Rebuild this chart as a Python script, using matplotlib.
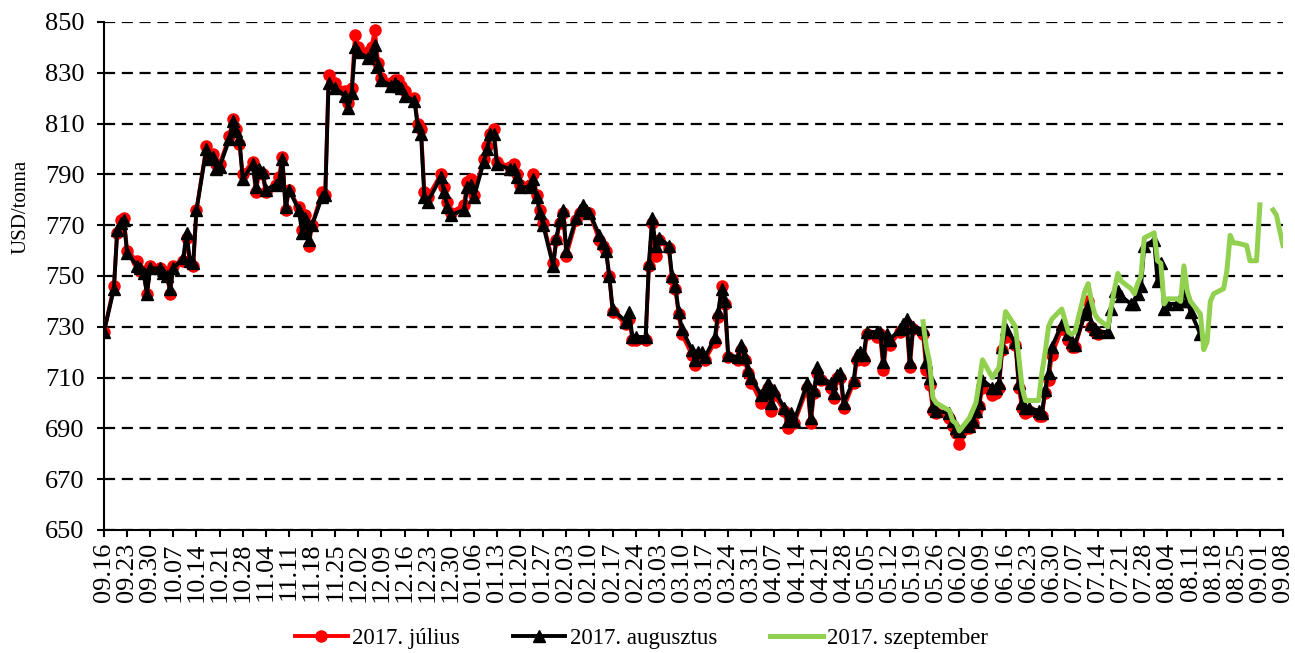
import numpy as np
import pandas as pd
import matplotlib
matplotlib.use("Agg")
import matplotlib.pyplot as plt
import matplotlib.dates as mdates

plt.rcParams["font.family"] = ["Liberation Serif", "DejaVu Serif"]

# US market holidays in the window (no quote that day)
holidays = ["2016-11-24", "2016-12-26", "2017-01-02", "2017-01-16", "2017-02-20",
            "2017-04-14", "2017-05-29", "2017-07-04", "2017-09-04"]

# 2017. augusztus contract, 2016.09.16 - 2017.08.14, one value per trading day (month per line)
augusztus = [
    728, 745, 768, 771, 772, 759, 754, 753, 751, 743, 753,
    753, 751, 750, 745, 753, 757, 767, 756, 755, 776, 800, 796, 797, 792, 793, 804, 811, 807, 804, 788, 794,
    785, 792, 791, 784, 786, 787, 796, 777, 784, 776, 767, 773, 764, 770, 781, 782, 826, 824, 821, 816, 822,
    840, 838, 836, 837, 841, 833, 827, 825, 826, 825, 824, 821, 819, 809, 806, 781, 779, 789, 783, 777, 774,
    776, 785, 786, 781, 795, 800, 806, 806, 794, 792, 792, 789, 785, 785, 788, 781, 775, 770, 754, 765,
    772, 776, 760, 773, 776, 778, 776, 775, 766, 763, 760, 750, 737, 732, 736, 726, 726, 726, 755,
    773, 762, 765, 762, 750, 746, 736, 729, 721, 717, 720, 720, 718, 726, 736, 745, 740, 719, 718, 723, 718, 713, 710,
    703, 704, 708, 700, 705, 698, 693, 696, 693, 708, 694, 705, 714, 710, 708, 704, 711, 712, 700,
    709, 719, 720, 719, 728, 728, 728, 716, 727, 725, 729, 731, 733, 716, 730, 729, 716, 710, 699, 697, 696, 693,
    690, 689, 691, 693, 697, 700, 709, 706, 706, 708, 722, 729, 724, 708, 700, 698, 698, 697, 696, 705, 712, 722,
    731, 727, 724, 723, 735, 738, 731, 729, 728, 728, 737, 744, 744, 742, 739, 739, 743, 746, 762, 764,
    748, 755, 737, 739, 739, 740, 744, 740, 736, 727,
]

# 2017. július contract, 2016.09.16 - 2017.07.14
julius = [
    728, 746, 767, 772, 773, 760, 756, 752, 752, 743, 754,
    753, 752, 751, 743, 754, 756, 765, 755, 754, 776, 801, 797, 798, 794, 794, 805, 812, 808, 802, 790, 795,
    783, 791, 790, 783, 786, 789, 797, 776, 784, 777, 768, 774, 762, 770, 783, 782, 829, 826, 823, 818, 824,
    845, 840, 838, 840, 847, 834, 828, 826, 827, 827, 825, 823, 820, 810, 808, 783, 781, 790, 785, 779, 775,
    778, 787, 788, 782, 796, 801, 806, 808, 795, 793, 794, 790, 786, 786, 790, 782, 776, 771, 755, 764,
    771, 775, 758, 772, 775, 776, 775, 775, 764, 762, 760, 750, 736, 731, 733, 725, 725, 725, 754,
    771, 758, 764, 761, 749, 745, 735, 727, 719, 715, 719, 718, 717, 724, 734, 746, 739, 718, 717, 721, 717, 712, 708,
    700, 702, 706, 697, 703, 697, 690, 694, 692, 706, 692, 704, 712, 709, 706, 702, 710, 710, 698,
    708, 717, 719, 717, 727, 726, 727, 713, 725, 723, 728, 729, 731, 714, 729, 727, 713, 707, 697, 696, 694, 691,
    688, 684, 690, 692, 696, 699, 706, 703, 704, 706, 721, 726, 723, 706, 698, 696, 697, 695, 695, 704, 709, 719,
    729, 725, 722, 722, 735, 740, 730, 728, 727,
]

# 2017. szeptember contract, 2017.05.22 - 2017.09.08 (09.04 empty)
szeptember = [
    732, 722, 716, 702, 700, 697, 693,
    692, 689, 694, 697, 700, 708, 717, 710, 712, 714, 725, 736, 730, 718, 706, 701, 701, 701, 712, 720, 730, 733,
    737, 728, 727, 728, 744, 747, 740, 735, 733, 730, 738, 745, 751, 748, 745, 743, 747, 750, 765, 767,
    756, 755, 739, 741, 741, 740, 754, 744, 740, 735, 721, 724, 740, 743, 745, 752, 766, 763, 763, 762, 756, 756, 756,
    778, np.nan, 776, 774, 768, 762,
]

trading = pd.bdate_range("2016-09-16", "2017-09-08")
trading = trading[~trading.isin(pd.to_datetime(holidays))]
d_aug = trading[:len(augusztus)]
d_jul = trading[:len(julius)]
d_sep = trading[trading >= "2017-05-22"].append(pd.DatetimeIndex(["2017-09-04"])).sort_values()

fig = plt.figure(figsize=(12.95, 6.53), dpi=100)
ax = fig.add_axes([104 / 1295, 1 - 530 / 653, 1179 / 1295, 508 / 653])

ax.plot(d_jul, julius, color="#FF0000", lw=2.8, marker="o", ms=8, label="2017. július", zorder=3)
ax.plot(d_aug, augusztus, color="black", lw=2.8, marker="^", ms=8, label="2017. augusztus", zorder=4)
ax.plot(d_sep, szeptember, color="#92D050", lw=3.6, label="2017. szeptember", zorder=5)

ax.set_ylim(650, 850)
ax.set_yticks(np.arange(650, 851, 20))
ax.set_xlim(pd.Timestamp("2016-09-16"), pd.Timestamp("2017-09-08"))
ax.set_xticks(pd.date_range("2016-09-16", "2017-09-08", freq="7D"))
ax.xaxis.set_major_formatter(mdates.DateFormatter("%m.%d"))
plt.setp(ax.get_xticklabels(), rotation=90)

ax.grid(axis="y", color="black", linestyle=(0, (5, 3)), lw=1.6)
ax.set_axisbelow(True)
for s in ("top", "right"):
    ax.spines[s].set_visible(False)
for s in ("left", "bottom"):
    ax.spines[s].set_linewidth(1.5)
ax.tick_params(axis="both", labelsize=19, width=1.5, length=5, direction="out")
ax.tick_params(axis="y", pad=9)
ax.tick_params(axis="x", pad=4)
ax.set_ylabel("USD/tonna", fontsize=15)
ax.yaxis.set_label_coords(-0.062, 0.636)

ax.legend(loc="center", bbox_to_anchor=(0.456, -0.213), ncol=3, frameon=False,
          fontsize=16.5, handlelength=2.3, handletextpad=0.2, columnspacing=2.3)

fig.savefig("out.png", dpi=100)
